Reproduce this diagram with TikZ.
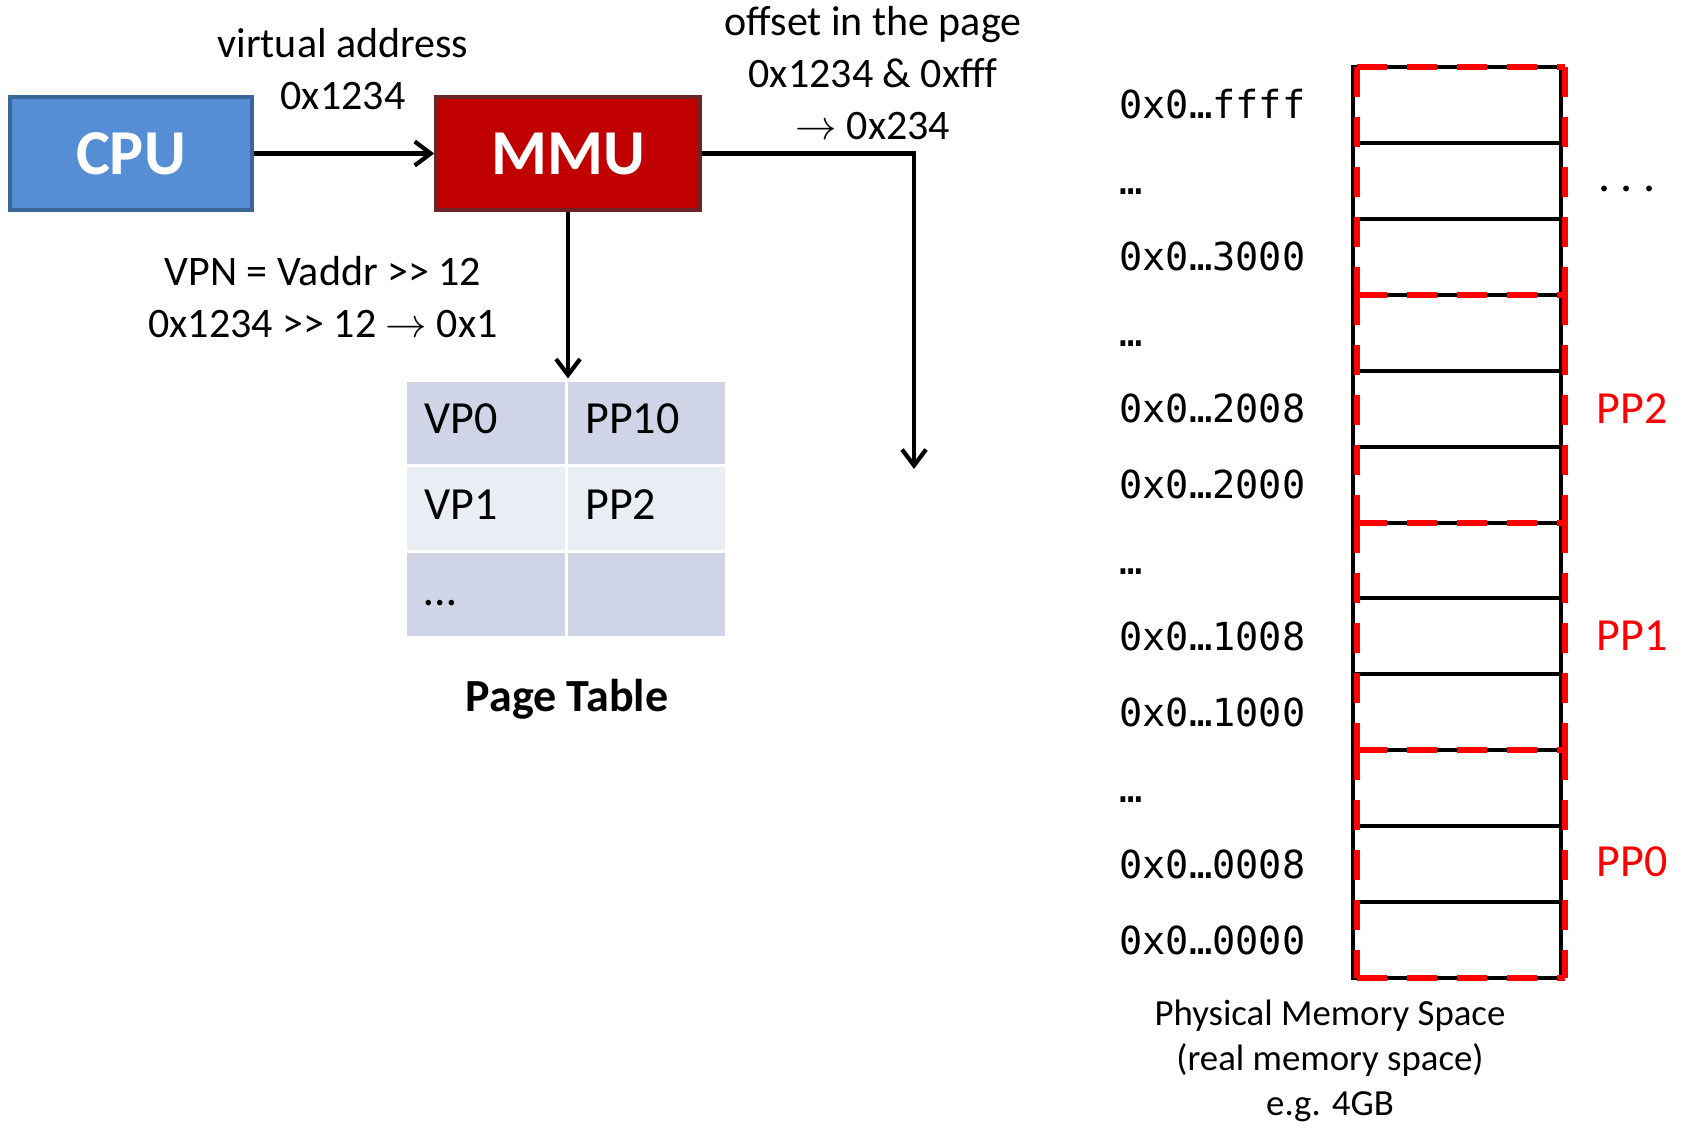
\documentclass[tikz,border=0pt]{standalone}
\usepackage{fontspec}
\setmainfont{Carlito}
\newfontfamily\addrfont{DejaVu Sans Mono}
\usetikzlibrary{arrows.meta}
\definecolor{cpublue}{HTML}{558ED5}
\definecolor{cpuedge}{HTML}{3B6699}
\definecolor{mmured}{HTML}{C00000}
\definecolor{mmuedge}{HTML}{6B2424}
\definecolor{rowdark}{HTML}{CFD5E7}
\definecolor{rowlight}{HTML}{E9EDF4}
\definecolor{pagered}{HTML}{FF0000}
\begin{document}
\begin{tikzpicture}[x=0.5pt,y=-0.5pt,
  unitbox/.style={draw, line width=1.8pt, inner sep=0pt, minimum height=56.5pt,
    text=white, font=\bfseries\fontsize{32}{38}\selectfont},
  conn/.style={line width=2.1pt, -{Straight Barb[length=8pt,width=12pt,line width=2.1pt]}},
  lbl/.style={align=center, inner sep=0pt, font=\fontsize{21}{25.8}\selectfont},
  tcell/.style={draw=white, line width=1.5pt, minimum height=42.8pt, text width=61.25pt,
    text height=16pt, text depth=5pt, inner xsep=9.5pt, inner ysep=0pt, align=left,
    font=\fontsize{23}{28}\selectfont},
  memcell/.style={draw=black, line width=2pt, minimum width=104pt, minimum height=37.96pt, inner sep=0pt},
  pagebox/.style={draw=pagered, line width=3pt, dash pattern=on 15pt off 10pt},
  addr/.style={anchor=base west, inner sep=0pt, font=\addrfont\fontsize{19.3}{23}\selectfont},
  pagelbl/.style={text=pagered, inner sep=0pt, font=\fontsize{23}{28}\selectfont}]
\useasboundingbox (0,0) rectangle (1684,1124);

% processor and translation unit
\node[unitbox, fill=cpublue, draw=cpuedge, minimum width=121pt] (cpu) at (131,153.5) {CPU};
\node[unitbox, fill=mmured, draw=mmuedge, minimum width=132pt] (mmu) at (568,153.5) {MMU};
\draw[conn] (cpu.east) -- (mmu.west);

\node[lbl] (va) at (343,69) {virtual address\\0x1234};
\node[lbl] (off) at (873,73) {offset in the page\\0x1234 \& 0xfff\\$\rightarrow$ 0x234};
\node[lbl] (vpn) at (323,297) {VPN = Vaddr >\kern0pt> 12\\0x1234 >\kern0pt> 12 $\rightarrow$ 0x1};

% offset path
\coordinate (offend) at (914,469);
\draw[conn] (mmu.east) -| (offend);

% page table
\node[tcell, fill=rowdark]  (t11) at (486,422.8) {VP0};
\node[tcell, fill=rowdark]  (t12) at (646.5,422.8) {PP10};
\node[tcell, fill=rowlight] (t21) at (486,508.5) {VP1};
\node[tcell, fill=rowlight] (t22) at (646.5,508.5) {PP2};
\node[tcell, fill=rowdark]  (t31) at (486,594.2) {…};
\node[tcell, fill=rowdark]  (t32) at (646.5,594.2) {};
\draw[conn] (mmu.south) -- (mmu.south |- t11.north);
\node[inner sep=0pt, font=\bfseries\fontsize{23}{28}\selectfont] (ptlabel) at (567,699) {Page Table};

% physical memory column
\foreach \i in {0,...,11}
  \node[memcell] (m\i) at (1457,{67+75.92*(\i+0.5)}) {};
% page frames: boundaries drawn once each, sides per frame
\foreach \k in {0,...,4}
  \draw[pagebox] (1357,{67+227.75*\k}) -- (1565,{67+227.75*\k});
\foreach \k in {0,...,3} {
  \draw[pagebox] (1357,{67+227.75*\k}) -- (1357,{67+227.75*(\k+1)});
  \draw[pagebox] (1565,{67+227.75*\k}) -- (1565,{67+227.75*(\k+1)});
}

% addresses
\foreach \i/\t in {0/0x0…ffff,1/…,2/0x0…3000,3/…,4/0x0…2008,5/0x0…2000,
                   6/…,7/0x0…1008,8/0x0…1000,9/…,10/0x0…0008,11/0x0…0000}
  \node[addr] (a\i) at (1119,{67+75.92*(\i+0.5)+14}) {\t};

\node[pagelbl] (pp2) at (1632,409) {PP2};
\node[pagelbl] (pp1) at (1632,636) {PP1};
\node[pagelbl] (pp0) at (1632,862) {PP0};
\node[anchor=base, inner sep=0pt, font=\fontsize{24}{28}\selectfont] (more) at (1627,191) {.\ .\ .};

\node[align=center, inner sep=0pt, font=\fontsize{18.4}{22.5}\selectfont] (memlabel) at (1330,1061)
  {Physical Memory Space\\(real memory space)\\e.g. 4GB};
\end{tikzpicture}
\end{document}
